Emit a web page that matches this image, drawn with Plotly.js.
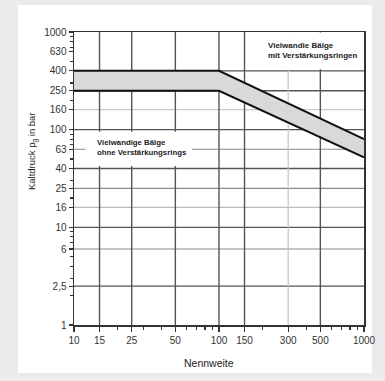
<!DOCTYPE html>
<html>
<head>
<meta charset="utf-8">
<script src="https://cdn.plot.ly/plotly-3.0.1.min.js"></script>
<style>html,body{margin:0;padding:0;background:#ebebeb;}#chart{width:385px;height:381px;}</style>
</head>
<body>
<div id="chart"></div>
<script>
// Data
const nennweite = [10, 100, 1000];
const druckOben = [400, 400, 80];
const druckUnten = [250, 250, 52];

const xTickVals = [10, 15, 25, 50, 100, 150, 300, 500, 1000];
const xTickText = ["10", "15", "25", "50", "100", "150", "300", "500", "1000"];
const yTickVals = [1, 2.5, 6, 10, 16, 25, 40, 63, 100, 160, 250, 400, 630, 1000];
const yTickText = ["1", "2,5", "6", "10", "16", "25", "40", "63", "100", "160", "250", "400", "630", "1000"];
const xMinorVals = [20, 30, 40, 60, 70, 80, 90, 200, 400, 600, 700, 800, 900];
const yMinorVals = [2, 3, 4, 5, 7, 8, 9, 20, 30, 50, 70, 80, 90, 200, 300, 500, 700, 800, 900];

const hGridDark = [400, 250, 100, 40, 10, 2.5];
const hGridMid = [63, 25, 6];
const hGridLight = [160, 16];
const vGridDark = [15, 25, 50, 100, 150, 500];
const vGridLight = [300];

const shapes = [];
// white card
shapes.push({type: 'rect', xref: 'paper', yref: 'paper', x0: -0.193, x1: 1.028, y0: -0.164, y1: 1.092,
  fillcolor: '#ffffff', line: {width: 0}, layer: 'below'});
function hLine(v, color, w) {
  shapes.push({type: 'line', xref: 'paper', yref: 'y', x0: 0, x1: 1, y0: v, y1: v,
    line: {color: color, width: w}, layer: 'below'});
}
function vLine(v, color, w) {
  shapes.push({type: 'line', xref: 'x', yref: 'paper', x0: v, x1: v, y0: 0, y1: 1,
    line: {color: color, width: w}, layer: 'below'});
}
hGridDark.forEach(v => hLine(v, '#555555', 1.4));
hGridMid.forEach(v => hLine(v, '#8a8a8a', 1.2));
hGridLight.forEach(v => hLine(v, '#bdbdbd', 1.2));
vGridDark.forEach(v => vLine(v, '#555555', 1.4));
vGridLight.forEach(v => vLine(v, '#c4c4c4', 1.2));
// white label backgrounds
shapes.push({type: 'rect', xref: 'x', yref: 'y', x0: 165, x1: 985, y0: 415, y1: 990,
  fillcolor: '#ffffff', line: {width: 0}, layer: 'below'});
shapes.push({type: 'rect', xref: 'x', yref: 'y', x0: 12, x1: 65, y0: 42.5, y1: 95,
  fillcolor: '#ffffff', line: {width: 0}, layer: 'below'});

const traces = [
  {x: nennweite, y: druckUnten, type: 'scatter', mode: 'lines',
   line: {color: '#111111', width: 2}, hoverinfo: 'skip'},
  {x: nennweite, y: druckOben, type: 'scatter', mode: 'lines', fill: 'tonexty',
   fillcolor: '#d9d9d9', line: {color: '#111111', width: 2}, hoverinfo: 'skip'}
];

const tickFont = {family: 'Liberation Sans, Arial, sans-serif', size: 10, color: '#333333'};

const layout = {
  width: 385, height: 381,
  margin: {l: 74, r: 21, t: 32, b: 56},
  paper_bgcolor: '#ebebeb',
  plot_bgcolor: 'rgba(0,0,0,0)',
  showlegend: false,
  font: {family: 'Liberation Sans, Arial, sans-serif'},
  xaxis: {
    type: 'log', range: [1, 3], tickmode: 'array', tickvals: xTickVals, ticktext: xTickText,
    showgrid: false, zeroline: false, showline: true, mirror: true, linecolor: '#333333', linewidth: 1.5,
    ticks: 'outside', ticklen: 5, tickcolor: '#333333', tickwidth: 1.2, tickfont: tickFont,
    minor: {tickmode: 'array', tickvals: xMinorVals, ticks: 'outside', ticklen: 3, tickcolor: '#333333', showgrid: false}
  },
  yaxis: {
    type: 'log', range: [0, 3], tickmode: 'array', tickvals: yTickVals, ticktext: yTickText,
    showgrid: false, zeroline: false, showline: true, mirror: true, linecolor: '#333333', linewidth: 1.5,
    ticks: 'outside', ticklen: 4, tickcolor: '#333333', tickwidth: 1.2, tickfont: tickFont,
    minor: {tickmode: 'array', tickvals: yMinorVals, ticks: 'outside', ticklen: 3, tickcolor: '#333333', showgrid: false}
  },
  shapes: shapes,
  annotations: [
    {text: '<b>Vielwandie Bälge</b><br><b>mit Verstärkungsringen</b>', xref: 'paper', yref: 'paper',
     x: 0.821, y: 0.938, xanchor: 'center', yanchor: 'middle', showarrow: false, align: 'left',
     font: {family: 'Liberation Sans, Arial, sans-serif', size: 8, color: '#222222'}},
    {text: '<b>Vielwandige Bälge</b><br><b>ohne Verstärkungsrings</b>', xref: 'paper', yref: 'paper',
     x: 0.072, y: 0.607, xanchor: 'left', yanchor: 'middle', showarrow: false, align: 'left',
     font: {family: 'Liberation Sans, Arial, sans-serif', size: 7.8, color: '#222222'}},
    {text: 'Nennweite', xref: 'paper', yref: 'paper', x: 0.466, y: -0.130,
     xanchor: 'center', yanchor: 'middle', showarrow: false,
     font: {family: 'Liberation Sans, Arial, sans-serif', size: 10.5, color: '#222222'}},
    {text: 'Kaltdruck p<sub>g</sub> in bar', xref: 'paper', yref: 'paper', x: -0.141, y: 0.594,
     xanchor: 'center', yanchor: 'middle', showarrow: false, textangle: -90,
     font: {family: 'Liberation Sans, Arial, sans-serif', size: 9.5, color: '#222222'}}
  ]
};

Plotly.newPlot('chart', traces, layout, {staticPlot: true, displayModeBar: false});
</script>
</body>
</html>
